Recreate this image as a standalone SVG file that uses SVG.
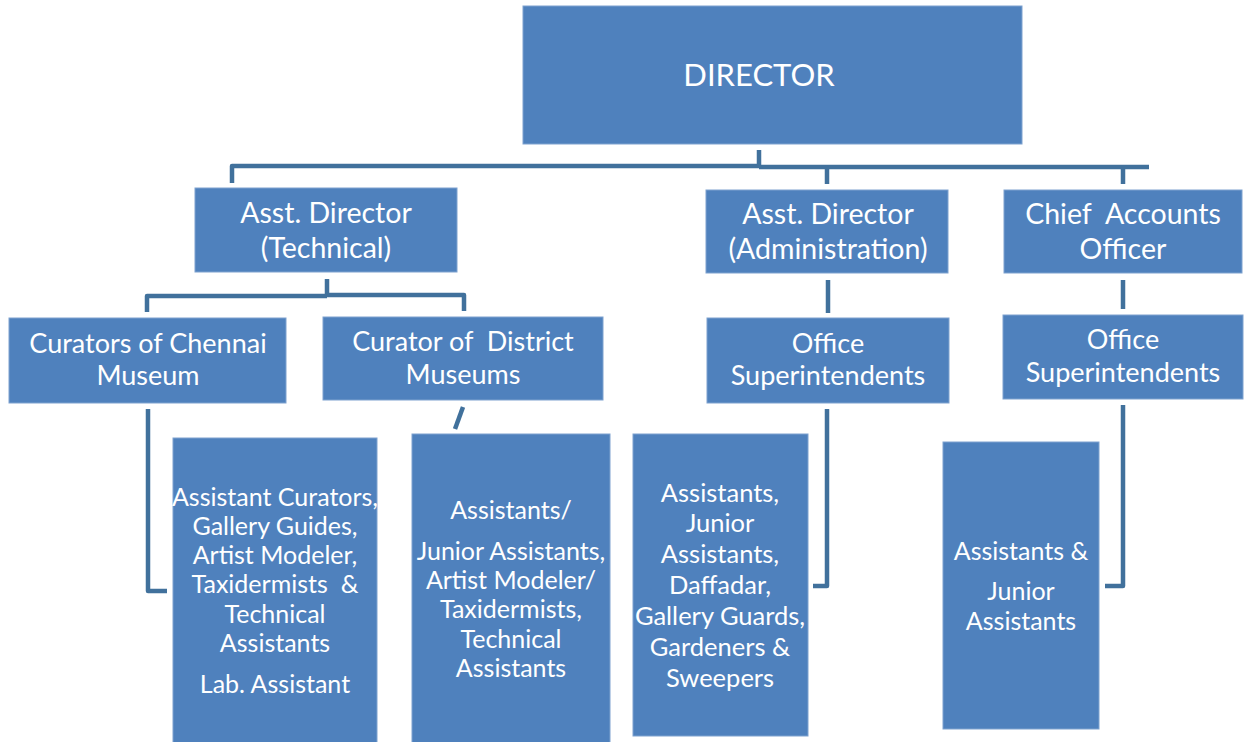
<svg xmlns="http://www.w3.org/2000/svg" width="1244" height="742" viewBox="0 0 1244 742">
<style>
.box{fill:#4F81BD;stroke:#7EA2CF;stroke-width:1}
.t{font-family:Lato,"Open Sans","Liberation Sans",sans-serif;fill:#fff;text-anchor:middle;font-size:25px;white-space:pre}
.d{font-size:31px}
.h{font-size:28.5px}
.m{font-size:27px}
.g{font-size:25.5px}
.c{fill:none;stroke:#41719C;stroke-width:4.5;stroke-linejoin:round}
</style>
<rect width="1244" height="742" fill="#fff"/>
<g id="connectors">
<path class="c" d="M759 150V167M232 183V166H759M759 167H1149M827 184V168M1123 184V168"/>
<path class="c" d="M327 279V296M147 312V296H327M327 295H464V311"/>
<path class="c" d="M828 280V313M1123 280V309"/>
<path class="c" d="M148 409V591H167"/>
<path class="c" d="M463 407L455 429"/>
<path class="c" d="M827 409V586H813"/>
<path class="c" d="M1123 405V586H1105"/>
</g>
<g id="director"><rect class="box" x="523" y="6" width="499" height="138"/><text class="t d" x="759" y="86">DIRECTOR</text></g>
<g id="ad-tech"><rect class="box" x="195" y="188" width="262" height="84"/><text class="t h" x="326" y="223">Asst. Director</text><text class="t h" x="326" y="258">(Technical)</text></g>
<g id="ad-admin"><rect class="box" x="706" y="190" width="242" height="83"/><text class="t h" x="828" y="224">Asst. Director</text><text class="t h" x="828" y="259">(Administration)</text></g>
<g id="cao"><rect class="box" x="1004" y="190" width="238" height="83"/><text class="t h" x="1123" y="224">Chief&#160; Accounts</text><text class="t h" x="1123" y="259">Officer</text></g>
<g id="cur-chennai"><rect class="box" x="9" y="318" width="277" height="85"/><text class="t m" x="148" y="353">Curators of Chennai</text><text class="t m" x="148" y="385">Museum</text></g>
<g id="cur-district"><rect class="box" x="323" y="317" width="280" height="83"/><text class="t m" x="463" y="351">Curator of&#160; District</text><text class="t m" x="463" y="384">Museums</text></g>
<g id="os-admin"><rect class="box" x="707" y="318" width="242" height="85"/><text class="t m" x="828" y="353">Office</text><text class="t m" x="828" y="385">Superintendents</text></g>
<g id="os-cao"><rect class="box" x="1003" y="315" width="240" height="84"/><text class="t m" x="1123" y="349">Office</text><text class="t m" x="1123" y="382">Superintendents</text></g>
<g id="staff-chennai"><rect class="box" x="173" y="438" width="204" height="306"/>
<text class="t" x="275" y="506">Assistant Curators,</text><text class="t" x="275" y="535">Gallery Guides,</text><text class="t" x="275" y="564">Artist Modeler,</text><text class="t" x="275" y="593">Taxidermists&#160; &amp;</text><text class="t" x="275" y="623">Technical</text><text class="t" x="275" y="652">Assistants</text><text class="t" x="275" y="693">Lab. Assistant</text></g>
<g id="staff-district"><rect class="box" x="412" y="434" width="198" height="310"/>
<text class="t" x="511" y="519">Assistants/</text><text class="t" x="511" y="560">Junior Assistants,</text><text class="t" x="511" y="589">Artist Modeler/</text><text class="t" x="511" y="618">Taxidermists,</text><text class="t" x="511" y="648">Technical</text><text class="t" x="511" y="677">Assistants</text></g>
<g id="staff-admin"><rect class="box" x="633" y="434" width="175" height="302"/>
<text class="t g" x="720" y="502">Assistants,</text><text class="t g" x="720" y="532">Junior</text><text class="t g" x="720" y="563">Assistants,</text><text class="t g" x="720" y="594">Daffadar,</text><text class="t g" x="720" y="625">Gallery Guards,</text><text class="t g" x="720" y="656">Gardeners &amp;</text><text class="t g" x="720" y="687">Sweepers</text></g>
<g id="staff-cao"><rect class="box" x="943" y="442" width="156" height="287"/>
<text class="t" x="1021" y="560">Assistants &amp;</text><text class="t" x="1021" y="600">Junior</text><text class="t" x="1021" y="630">Assistants</text></g>
</svg>
